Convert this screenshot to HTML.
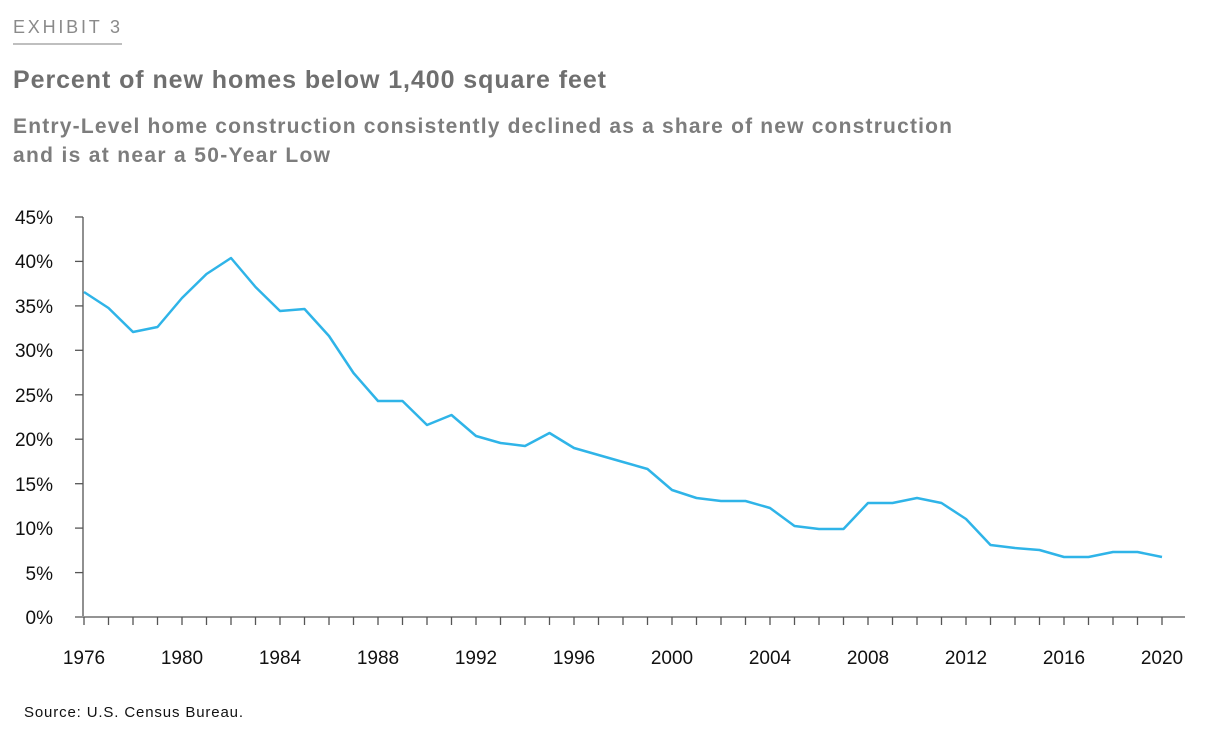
<!DOCTYPE html>
<html><head><meta charset="utf-8"><style>
html,body{margin:0;padding:0;background:#fff;width:1218px;height:732px;overflow:hidden;font-family:"Liberation Sans",Arial,sans-serif}
</style></head><body>
<svg width="1218" height="732" xmlns="http://www.w3.org/2000/svg" font-family="Liberation Sans, Arial, sans-serif">
<text x="13" y="33" font-size="18" fill="#8a8a8a" textLength="107" lengthAdjust="spacing">EXHIBIT 3</text>
<line x1="13" y1="44" x2="122" y2="44" stroke="#aaa" stroke-width="1.5"/>
<text x="13" y="88" font-size="25" font-weight="bold" fill="#6f6f6f" textLength="593" lengthAdjust="spacing">Percent of new homes below 1,400 square feet</text>
<text x="13" y="133" font-size="21" font-weight="bold" fill="#7d7d7d" textLength="939" lengthAdjust="spacing">Entry-Level home construction consistently declined as a share of new construction</text>
<text x="13" y="162" font-size="21" font-weight="bold" fill="#7d7d7d" textLength="317" lengthAdjust="spacing">and is at near a 50-Year Low</text>
<g font-size="19" fill="#111" text-anchor="end">
<text x="53" y="224">45%</text><text x="53" y="268">40%</text><text x="53" y="313">35%</text>
<text x="53" y="357">30%</text><text x="53" y="402">25%</text><text x="53" y="446">20%</text>
<text x="53" y="491">15%</text><text x="53" y="535">10%</text><text x="53" y="580">5%</text>
<text x="53" y="624">0%</text>
</g>
<g stroke="#555" stroke-width="1.3">
<line x1="83" y1="217" x2="83" y2="616"/>
<line x1="75" y1="617" x2="1185" y2="617"/>
<line x1="75" y1="217" x2="83" y2="217"/><line x1="75" y1="261.4" x2="83" y2="261.4"/>
<line x1="75" y1="305.9" x2="83" y2="305.9"/><line x1="75" y1="350.3" x2="83" y2="350.3"/>
<line x1="75" y1="394.8" x2="83" y2="394.8"/><line x1="75" y1="439.2" x2="83" y2="439.2"/>
<line x1="75" y1="483.7" x2="83" y2="483.7"/><line x1="75" y1="528.1" x2="83" y2="528.1"/>
<line x1="75" y1="572.6" x2="83" y2="572.6"/>
</g>
<g id="ticks" stroke="#555" stroke-width="1.3"></g>
<g font-size="19" fill="#111" text-anchor="middle">
<text x="84" y="664">1976</text><text x="182" y="664">1980</text><text x="280" y="664">1984</text>
<text x="378" y="664">1988</text><text x="476" y="664">1992</text><text x="574" y="664">1996</text>
<text x="672" y="664">2000</text><text x="770" y="664">2004</text><text x="868" y="664">2008</text>
<text x="966" y="664">2012</text><text x="1064" y="664">2016</text><text x="1162" y="664">2020</text>
</g>
<polyline id="ln" fill="none" stroke="#2fb4e8" stroke-width="2.5" stroke-linejoin="round"/>
<text x="24" y="717" font-size="15" fill="#111" textLength="219" lengthAdjust="spacing">Source: U.S. Census Bureau.</text>
</svg>
<script>
var ys=[292,308,332,327,298,274,258,287,311,309,336,373,401,401,425,415,436,443,446,433,448,455,462,469,490,498,501,501,508,526,529,529,503,503,498,503,519,545,548,550,557,557,552,552,557];
var pts=[],t="";
for(var i=0;i<ys.length;i++){var x=84+i*24.5;pts.push(x+","+ys[i]);t+='<line x1="'+x+'" y1="617" x2="'+x+'" y2="625"/>';}
document.getElementById("ln").setAttribute("points",pts.join(" "));
document.getElementById("ticks").innerHTML=t;
</script>
</body></html>
